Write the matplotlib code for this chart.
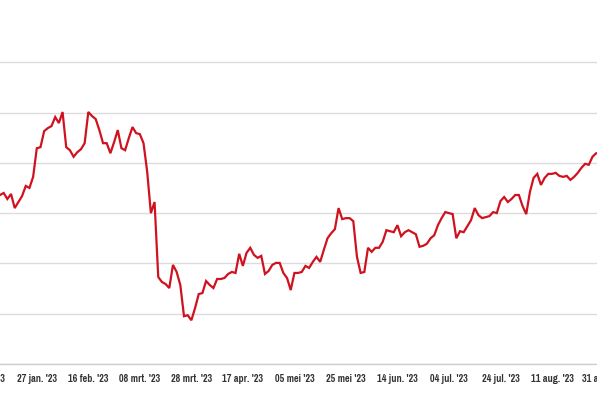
import numpy as np
import pandas as pd
import matplotlib
matplotlib.use("Agg")
import matplotlib.pyplot as plt
from matplotlib import font_manager

# slotkoersen per handelsdag, vanaf 13 jan. 2023
koers = [
    33.6, 34.0, 32.8, 33.8, 31.0, 32.2, 33.4, 35.4, 35.0, 37.2,
    42.9, 43.1, 46.3, 46.9, 47.3, 49.1, 47.9, 50.1, 43.1, 42.5,
    41.2, 42.1, 42.7, 43.9, 50.1, 49.3, 48.7, 46.5, 43.9, 43.9,
    41.9, 44.1, 46.5, 42.9, 42.5, 44.9, 47.1, 45.9, 45.7, 43.9,
    38.2, 30.0, 32.2, 17.3, 16.3, 15.9, 15.1, 19.7, 18.3, 15.7,
    9.5, 9.7, 8.7, 11.1, 13.9, 14.1, 16.5, 15.7, 15.1, 16.9,
    16.9, 17.1, 17.9, 18.3, 18.1, 21.9, 19.5, 22.1, 23.1, 21.7,
    21.1, 21.5, 17.9, 18.5, 19.7, 20.1, 20.1, 18.1, 17.1, 14.7,
    18.1, 18.1, 18.3, 19.5, 19.1, 20.3, 21.3, 20.3, 22.7, 25.0,
    26.0, 26.8, 31.0, 28.8, 29.0, 29.0, 28.4, 21.3, 18.1, 18.3,
    23.1, 22.3, 23.1, 23.1, 24.3, 26.6, 26.4, 26.2, 27.6, 25.4,
    26.2, 26.6, 26.2, 25.8, 23.3, 23.5, 23.9, 25.0, 25.6, 27.6,
    29.0, 30.2, 30.0, 29.8, 25.0, 26.4, 26.2, 27.4, 28.6, 31.0,
    29.6, 29.0, 29.2, 29.4, 30.2, 30.0, 32.4, 33.2, 32.2, 32.8,
    33.6, 33.6, 31.4, 29.8, 34.2, 37.0, 37.8, 35.6, 37.0, 37.8,
    37.8, 38.0, 37.4, 37.2, 37.4, 36.6, 37.2, 38.0, 39.0, 39.8,
    39.6, 41.2, 41.9, 41.9,
]
maanden = ["jan.", "feb.", "mrt.", "apr.", "mei", "jun.",
           "jul.", "aug.", "sep.", "okt.", "nov.", "dec."]
rasterlijnen = [0, 10, 20, 30, 40, 50, 60]

alle_dagen = pd.bdate_range("2023-01-09", "2023-09-15")
start = 4  # 13 jan. 2023
x = np.arange(start, start + len(koers))
tick_pos = list(range(0, 169, 14))
tick_lab = ["%02d %s '23" % (alle_dagen[i].day, maanden[alle_dagen[i].month - 1])
            for i in tick_pos]

# smal lettertype zoeken
fp = None
kandidaten = sorted(f.fname for f in font_manager.fontManager.ttflist)
for wens in ["Narrow-Bold", "CondensedBold", "Condensed-Bold", "Condensed-SemiBold",
             "Narrow", "Condensed"]:
    for fn in kandidaten:
        if wens in fn and "Oblique" not in fn and "Italic" not in fn:
            fp = font_manager.FontProperties(fname=fn)
            break
    if fp is not None:
        break
if fp is None:
    fp = font_manager.FontProperties(family="DejaVu Sans", stretch="condensed")
fp.set_size(8)

fig = plt.figure(figsize=(5.97, 3.98), dpi=100)
px = 3.68
ax = fig.add_axes([-40 / 597, 34 / 398, 677 / 597, 364 / 398])
ax.plot(x, koers, color="#d0121f", lw=1.6, solid_joinstyle="miter")
ax.set_xlim(start - 40 / px, start + 637 / px)
ax.set_ylim(0, 364 / 5.03)
ax.set_yticks(rasterlijnen)
ax.yaxis.grid(True, color="#dcdcdc", lw=1.0)
ax.set_axisbelow(True)
ax.tick_params(axis="y", left=False, labelleft=False)
ax.set_xticks(tick_pos)
ax.set_xticklabels(tick_lab, color="#333333", fontproperties=fp)
ax.tick_params(axis="x", length=0, pad=7)
for s in ["top", "right", "left"]:
    ax.spines[s].set_visible(False)
ax.spines["bottom"].set_color("#cfcfcf")
ax.spines["bottom"].set_linewidth(1.0)

fig.savefig("out.png", dpi=100)
